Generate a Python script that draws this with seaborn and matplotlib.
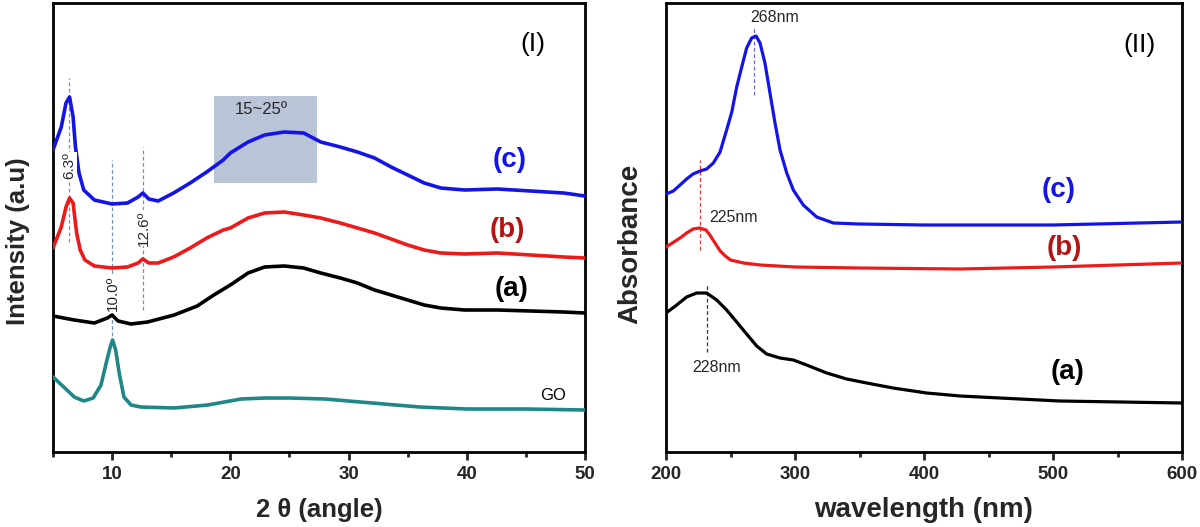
import numpy as np
import pandas as pd
import seaborn as sns
import matplotlib
matplotlib.use("Agg")
import matplotlib.pyplot as plt
from matplotlib.patches import Rectangle

# ---- XRD data (panel I), 2theta vs intensity (a.u., offset curves)
xrd_c_x = [5.0, 5.7, 6.1, 6.4, 6.7, 6.9, 7.2, 7.6, 8.5, 10.0, 11.3, 12.2, 12.6, 13.1, 13.9, 15.2,
           16.6, 18.0, 19.4, 20.0, 21.5, 22.9, 24.55, 26.2, 27.65, 29.3, 30.75, 32.2, 33.6, 35.0,
           36.4, 37.8, 39.8, 42.6, 45.4, 48.2, 50]
xrd_c_y = [302, 325, 349, 355, 335, 305, 279, 262, 252, 248, 249, 255, 259, 253, 251, 259,
           269, 280, 292, 299, 310, 317, 320, 319, 310, 305, 300, 294, 285, 277,
           269, 264, 262, 263, 261, 259, 256]

xrd_b_x = [5.0, 5.7, 6.1, 6.4, 6.7, 7.0, 7.3, 7.7, 8.5, 10.0, 11.3, 12.2, 12.6, 13.1, 13.9, 15.2,
           16.6, 18.0, 19.4, 20.0, 21.5, 22.9, 24.55, 26.2, 27.65, 29.3, 30.75, 32.2, 33.6, 35.0,
           36.4, 37.8, 39.8, 42.6, 45.4, 48.2, 50]
xrd_b_y = [204, 225, 245, 254, 249, 219, 202, 192, 186, 184, 185, 189, 193, 189, 189, 195,
           204, 214, 222, 224, 234, 239, 240, 237, 234, 229, 224, 219, 213, 207,
           202, 199, 198, 199, 197, 195, 194]

xrd_a_x = [5.0, 6.8, 8.5, 9.6, 10.0, 10.5, 11.6, 13.0, 15.25, 17.2, 18.6, 20.0, 21.5, 22.9, 24.55,
           26.2, 27.65, 29.3, 30.75, 32.2, 33.6, 35.0, 36.4, 37.8, 39.8, 42.6, 45.4, 48.2, 50]
xrd_a_y = [136, 132, 129, 134, 137, 131, 128, 130, 137, 146, 157, 167, 179, 185, 186,
           184, 179, 174, 169, 162, 157, 152, 147, 144, 142, 142, 141, 140, 139]

xrd_go_x = [5.0, 6.0, 6.8, 7.6, 8.4, 9.06, 9.5, 9.84, 10.04, 10.3, 10.6, 11.0, 11.6, 12.4, 15.25,
            18.1, 20.9, 23, 25, 28, 30, 33, 36, 40, 45, 50]
xrd_go_y = [75, 64, 55, 51, 54, 67, 89, 105, 112, 102, 79, 55, 47, 45, 44,
            47, 53, 54, 54, 53, 51, 48, 45, 43, 43, 42]

# ---- UV-vis data (panel II), wavelength vs absorbance (offset curves)
uv_c_x = [200, 205.7, 210.9, 216, 221, 226.4, 231.5, 236.7, 241.9, 247, 251, 254.8, 258.7, 262.5,
          266.4, 269.8, 272.9, 276.7, 280.6, 284.5, 288.4, 293.6, 298.7, 306.4, 316.8, 329.7,
          350, 400, 500, 600]
uv_c_y = [258, 261, 267, 273, 278, 281, 283, 289, 300, 322, 340, 365, 385, 404,
          414, 416, 409, 389, 359, 329, 302, 279, 262, 247, 235, 229,
          228, 227, 227, 230]

uv_b_x = [200, 208.5, 212, 216, 221, 226, 231, 234, 239, 242, 246, 250, 260, 273, 300, 350, 428, 500, 600]
uv_b_y = [205, 212, 215, 219, 223, 224, 222, 217, 207, 201, 196, 192, 189, 187, 185, 184, 183, 185, 189]

uv_a_x = [200, 208.3, 216, 223.8, 231.5, 239.3, 247, 254.8, 262.5, 270.3, 278, 288.4, 298.7, 309,
          324.6, 340, 355.6, 376, 402, 428, 505, 600]
uv_a_y = [139, 147, 155, 159, 159, 152, 142, 130, 118, 106, 98, 94, 92, 87,
          79, 73, 69, 64, 59, 56, 51, 49]

BLUE = "#1414e6"
RED = "#ec1a1a"
DARKRED = "#b41414"
TEAL = "#1f8787"
DASH = "#7393bb"

sns.set_style("white")
plt.rcParams["font.family"] = ["Liberation Sans", "DejaVu Sans"]
plt.rcParams["lines.solid_joinstyle"] = "round"
plt.rcParams["lines.solid_capstyle"] = "round"

fig = plt.figure(figsize=(12, 5.27), dpi=100)
ax1 = fig.add_axes([53 / 1200, 75 / 527, 532 / 1200, 449 / 527])
ax2 = fig.add_axes([666 / 1200, 75 / 527, 516 / 1200, 449 / 527])

lw = 2.6
sns.lineplot(x=xrd_go_x, y=xrd_go_y, ax=ax1, color=TEAL, lw=lw, sort=False, zorder=3)
sns.lineplot(x=xrd_a_x, y=xrd_a_y, ax=ax1, color="black", lw=lw, sort=False, zorder=3)
sns.lineplot(x=xrd_b_x, y=xrd_b_y, ax=ax1, color=RED, lw=lw, sort=False, zorder=3)
sns.lineplot(x=xrd_c_x, y=xrd_c_y, ax=ax1, color=BLUE, lw=lw, sort=False, zorder=3)

ax1.add_patch(Rectangle((18.6, 269), 8.7, 87, facecolor="#b9c4d7", edgecolor="none", zorder=1))
ax1.text(22.6, 342, "15~25º", ha="center", va="center", fontsize=12)

for xv, y0, y1 in [(6.35, 210, 374), (10.0, 110, 292), (12.6, 142, 305)]:
    ax1.plot([xv, xv], [y0, y1], ls=(0, (3, 2)), color=DASH, lw=0.9, zorder=2)
for xv, yv, s in [(6.35, 286, "6.3º"), (10.1, 159, "10.0º"), (12.65, 224, "12.6º")]:
    ax1.text(xv, yv, s, rotation=90, ha="center", va="center", fontsize=11, zorder=4,
             bbox=dict(facecolor="white", edgecolor="none", pad=0.5))

ax1.text(43.6, 292, "(c)", color=BLUE, fontsize=20, fontweight="bold", ha="center", va="center")
ax1.text(43.4, 222, "(b)", color=DARKRED, fontsize=20, fontweight="bold", ha="center", va="center")
ax1.text(43.8, 163, "(a)", color="black", fontsize=20, fontweight="bold", ha="center", va="center")
ax1.text(47.3, 56, "GO", color="black", fontsize=12, ha="center", va="center")
ax1.text(45.6, 408, "(I)", color="black", fontsize=19, ha="center", va="center")

ax1.set_xlim(5, 50)
ax1.set_ylim(0, 449)
ax1.set_xticks([10, 20, 30, 40, 50])
ax1.set_xticks([5, 15, 25, 35, 45], minor=True)
ax1.set_yticks([])
ax1.set_xlabel("2 θ (angle)", fontsize=18.5, fontweight="bold")
ax1.set_ylabel("Intensity (a.u)", fontsize=18.5, fontweight="bold")
ax1.xaxis.set_label_coords(0.5, -0.129)
ax1.yaxis.set_label_coords(-0.066, 0.47)

# ---- panel II
uv_lw = 2.3
sns.lineplot(x=uv_a_x, y=uv_a_y, ax=ax2, color="black", lw=uv_lw, sort=False, zorder=3)
sns.lineplot(x=uv_b_x, y=uv_b_y, ax=ax2, color=RED, lw=uv_lw, sort=False, zorder=3)
sns.lineplot(x=uv_c_x, y=uv_c_y, ax=ax2, color=BLUE, lw=uv_lw, sort=False, zorder=3)

ax2.plot([268.5, 268.5], [357, 425], ls=(0, (3, 2)), color="#6b6be0", lw=0.9, zorder=2)
ax2.plot([226, 226], [202, 292], ls=(0, (3, 2)), color="#e03a3a", lw=0.9, zorder=2)
ax2.plot([231.5, 231.5], [100, 168], ls=(0, (3, 2)), color="#333333", lw=0.9, zorder=2)
ax2.text(284, 435, "268nm", fontsize=11.5, ha="center", va="center")
ax2.text(252, 235, "225nm", fontsize=11.5, ha="center", va="center")
ax2.text(239, 85, "228nm", fontsize=11.5, ha="center", va="center")

ax2.text(504, 262, "(c)", color=BLUE, fontsize=20, fontweight="bold", ha="center", va="center")
ax2.text(509, 204, "(b)", color=DARKRED, fontsize=20, fontweight="bold", ha="center", va="center")
ax2.text(511, 80, "(a)", color="black", fontsize=20, fontweight="bold", ha="center", va="center")
ax2.text(567, 407, "(II)", color="black", fontsize=19, ha="center", va="center")

ax2.set_xlim(200, 600)
ax2.set_ylim(0, 449)
ax2.set_xticks([200, 300, 400, 500, 600])
ax2.set_xticks([250, 350, 450, 550], minor=True)
ax2.set_yticks([])
ax2.set_xlabel("wavelength (nm)", fontsize=20, fontweight="bold")
ax2.set_ylabel("Absorbance", fontsize=20, fontweight="bold")
ax2.xaxis.set_label_coords(0.5, -0.129)
ax2.yaxis.set_label_coords(-0.07, 0.463)

for ax in (ax1, ax2):
    for sp in ax.spines.values():
        sp.set_linewidth(2)
        sp.set_color("black")
    ax.tick_params(axis="x", which="major", direction="out", length=6, width=2, pad=4,
                   labelsize=13.5, bottom=True)
    ax.tick_params(axis="x", which="minor", direction="out", length=3.5, width=2, bottom=True)
    for lab in ax.get_xticklabels():
        lab.set_fontweight("bold")
    ax.xaxis.label.set_verticalalignment("center")
    ax.yaxis.label.set_verticalalignment("center")

fig.savefig("out.png", dpi=100)
